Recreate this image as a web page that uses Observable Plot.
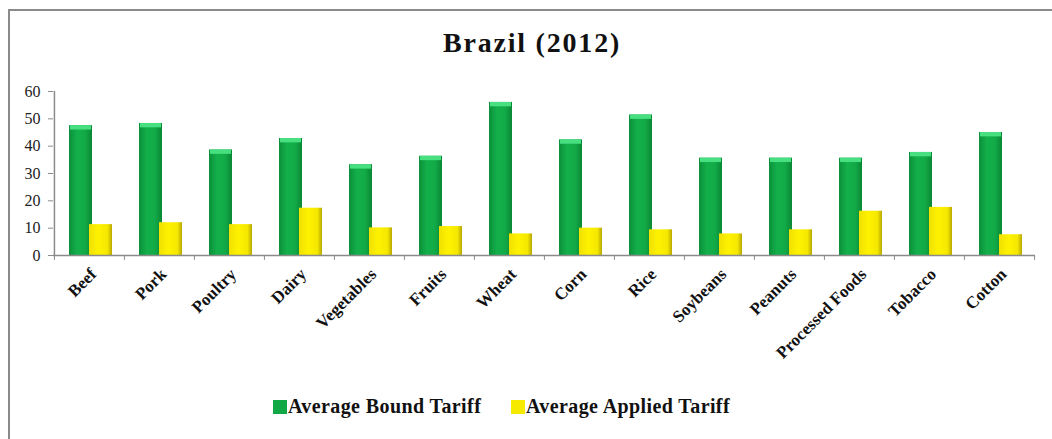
<!DOCTYPE html>
<html>
<head>
<meta charset="utf-8">
<script src="https://cdn.jsdelivr.net/npm/d3@7"></script>
<script src="https://cdn.jsdelivr.net/npm/@observablehq/plot@0.6"></script>
<style>
  html, body { margin: 0; padding: 0; background: #fff; width: 1052px; height: 439px; overflow: hidden; }
  #frame { position: absolute; left: 8px; top: 9px; width: 1060px; height: 450px; border-left: 2px solid #8a8a8a; border-top: 2px solid #8a8a8a; box-sizing: border-box; }
  #title { position: absolute; left: 0; width: 1064px; top: 27px; text-align: center; font-family: "Liberation Serif", serif; font-weight: bold; font-size: 28px; letter-spacing: 1.8px; color: #111; }
  #chart { position: absolute; left: 0; top: 0; }
  #legend { position: absolute; top: 395px; left: 0; width: 1052px; font-family: "Liberation Serif", serif; font-weight: bold; font-size: 20px; letter-spacing: 0.4px; color: #111; }
  .item { position: absolute; top: 0; display: flex; align-items: center; white-space: nowrap; }
  .sw { width: 14px; height: 14px; margin-right: 1px; }
</style>
</head>
<body>
<div id="frame"></div>
<div id="title">Brazil (2012)</div>
<div id="chart"></div>
<div id="legend"></div>
<script>
const categories = ["Beef","Pork","Poultry","Dairy","Vegetables","Fruits","Wheat","Corn","Rice","Soybeans","Peanuts","Processed Foods","Tobacco","Cotton"];
const boundTariff = [47.5,48.3,38.6,42.8,33.2,36.3,56.0,42.3,51.4,35.6,35.6,35.6,37.7,45.0];
const appliedTariff = [11.3,12.0,11.3,17.3,10.1,10.6,7.9,10.0,9.4,7.9,9.4,16.2,17.6,7.6];
const yTicks = [0,10,20,30,40,50,60];
const seriesNames = ["Average Bound Tariff","Average Applied Tariff"];
const seriesColors = ["#12a845","#f5ea00"];

const bound = categories.map((c, i) => ({cat: c, v: boundTariff[i]}));
const applied = categories.map((c, i) => ({cat: c, v: appliedTariff[i]}));

const W = 1052, ML = 53, MR = 17;
const bw = (W - ML - MR) / categories.length;

const chart = Plot.plot({
  width: W, height: 380,
  marginLeft: ML, marginRight: MR, marginTop: 91, marginBottom: 125,
  style: {fontFamily: "'Liberation Serif', serif", background: "transparent", overflow: "visible"},
  x: {domain: categories, padding: 0, axis: null, label: null},
  y: {domain: [0, 60], axis: null, label: null},
  marks: [
    Plot.barY(bound, {x: "cat", y: "v", fill: "url(#gGreen)", insetLeft: 15, insetRight: 32}),
    Plot.barY(bound, {x: "cat", y1: d => d.v - 1.6, y2: "v", fill: "#47df7f", insetLeft: 16, insetRight: 33}),
    Plot.barY(applied, {x: "cat", y: "v", fill: "url(#gYellow)", insetLeft: 35, insetRight: 12}),
    Plot.ruleY([0], {stroke: "#8a8a8a", strokeWidth: 1.5}),
    Plot.ruleX([categories[0]], {y1: 0, y2: 60, dx: -bw / 2, stroke: "#8a8a8a", strokeWidth: 1.5}),
    Plot.ruleX(categories, {x: d => d, y1: 0, y2: -1.8, dx: -bw / 2, stroke: "#8a8a8a"}),
    Plot.ruleX(categories.slice(-1), {x: d => d, y1: 0, y2: -1.8, dx: bw / 2, stroke: "#8a8a8a"}),
    Plot.axisY({ticks: yTicks, tickSize: 5, tickPadding: 8, fontSize: 16, fill: "#222", stroke: "#8a8a8a", tickFormat: d => String(d), label: null}),
    Plot.axisX({tickSize: 0, tickRotate: -45, tickPadding: 12, fontSize: 17, fontWeight: "bold", fill: "#111", dx: 4, dy: 4, label: null})
  ]
});

chart.insertAdjacentHTML("afterbegin",
  `<defs>
    <linearGradient id="gGreen" x1="0" x2="1" y1="0" y2="0">
      <stop offset="0" stop-color="#0c8f3a"/>
      <stop offset="0.35" stop-color="#13b04b"/>
      <stop offset="0.7" stop-color="#12aa47"/>
      <stop offset="1" stop-color="#0a8735"/>
    </linearGradient>
    <linearGradient id="gYellow" x1="0" x2="1" y1="0" y2="0">
      <stop offset="0" stop-color="#f0e000"/>
      <stop offset="0.4" stop-color="#fff200"/>
      <stop offset="0.8" stop-color="#f5e800"/>
      <stop offset="1" stop-color="#b8a800"/>
    </linearGradient>
  </defs>`);
document.getElementById("chart").appendChild(chart);

const legend = document.getElementById("legend");
const positions = [273, 511];
seriesNames.forEach((name, i) => {
  const item = document.createElement("div");
  item.className = "item";
  item.style.left = positions[i] + "px";
  const sw = document.createElement("div");
  sw.className = "sw";
  sw.style.background = seriesColors[i];
  const t = document.createElement("span");
  t.textContent = name;
  item.appendChild(sw);
  item.appendChild(t);
  legend.appendChild(item);
});
</script>
</body>
</html>
